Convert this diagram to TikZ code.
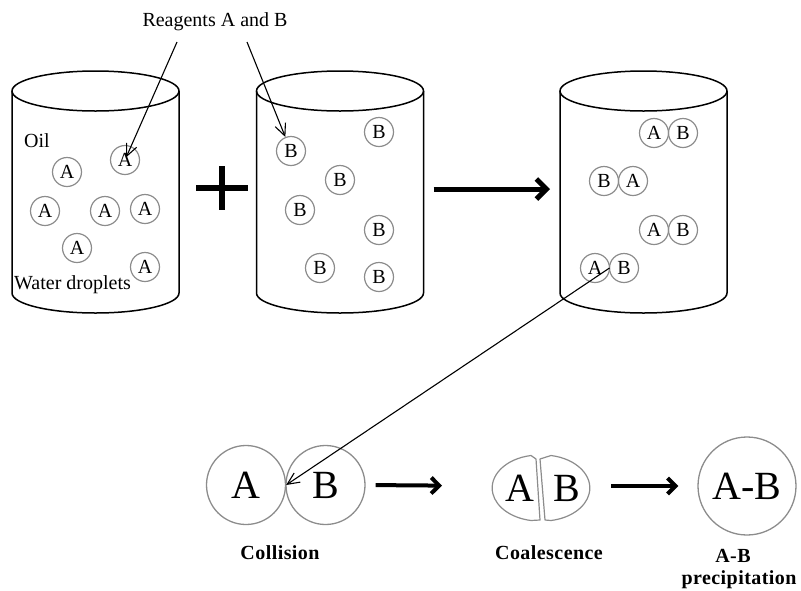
\documentclass[tikz,border=0pt]{standalone}
\usepackage{fontspec}
\setmainfont{Liberation Serif}
\newfontfamily\cbold[LetterSpace=2.2,UprightFont={* Bold}]{Liberation Serif}
\usetikzlibrary{arrows.meta,calc}
\definecolor{dropgray}{HTML}{8C8C8C}
\tikzset{
  cyl/.style={line width=1.5pt},
  txt/.style={font={\fontsize{20}{24}\selectfont}, inner sep=0pt},
  drop/.style={circle, draw=dropgray, line width=1.2pt, minimum size=29pt, inner sep=0pt, font={\fontsize{20}{24}\selectfont}},
  bigdrop/.style={circle, draw=dropgray, line width=1.3pt, minimum size=79pt, inner sep=0pt, font={\fontsize{40}{44}\selectfont}},
  biglet/.style={inner sep=0pt, font={\fontsize{40}{44}\selectfont}},
  half/.style={draw=dropgray, line width=1.2pt, line join=round},
  thin arrow/.style={line width=1.1pt, -{Straight Barb[length=12pt,width=11pt,line width=1.1pt]}},
  thick arrow/.style={line width=5pt, -{Straight Barb[length=10pt,width=20pt,line width=5pt]}},
  mid arrow/.style={line width=4pt, -{Straight Barb[length=8pt,width=16pt,line width=4pt]}},
  captext/.style={inner sep=0pt, align=center, font={\cbold\fontsize{20}{23}\selectfont}}
}
\begin{document}
\begin{tikzpicture}[x=1pt,y=-1pt]
\useasboundingbox (0,0) rectangle (801,590);
% cylinders
\foreach \cx in {95.5,340,643.5}{
  \draw[cyl] (\cx,91) ellipse [x radius=83.5, y radius=20];
  \draw[cyl] (\cx-83.5,91) -- (\cx-83.5,293) arc[start angle=180,end angle=0,x radius=83.5,y radius=20] -- (\cx+83.5,91);
}
% labels
\node[txt] (reag) at (215,22) {Reagents A and B};
\node[txt] (oil) at (37,141) {Oil};
\node[txt, anchor=west] (water) at (14,285) {Water droplets};
% left cylinder A droplets
\node[drop] (a1) at (125,160) {A};
\node[drop] (a2) at (67,172) {A};
\node[drop] (a3) at (45,211) {A};
\node[drop] (a4) at (105,211) {A};
\node[drop] (a5) at (145,209) {A};
\node[drop] (a6) at (77,248) {A};
\node[drop] (a7) at (145,267) {A};
% middle cylinder B droplets
\node[drop] (b1) at (291,151) {B};
\node[drop] (b2) at (379,132) {B};
\node[drop] (b3) at (340,180) {B};
\node[drop] (b4) at (300,210) {B};
\node[drop] (b5) at (379,230) {B};
\node[drop] (b6) at (320,268) {B};
\node[drop] (b7) at (379,277) {B};
% right cylinder pairs
\node[drop] (p1a) at (654,133) {A};
\node[drop] (p1b) at (683,133) {B};
\node[drop] (p2b) at (604,181) {B};
\node[drop] (p2a) at (633,181) {A};
\node[drop] (p3a) at (654,230) {A};
\node[drop] (p3b) at (683,230) {B};
\node[drop] (p4a) at (595,268) {A};
\node[drop] (p4b) at (624,268) {B};
% reagent arrows
\coordinate (r1) at (177,42);
\coordinate (r2) at (247,42);
\draw[thin arrow, shorten >=3pt] (r1) -- (a1.center);
\draw[thin arrow] (r2) -- (b1);
% plus
\draw[line width=6.5pt] (196,188) -- (248,188);
\draw[line width=6.5pt] (222,166) -- (222,210);
% big arrow
\coordinate (c2r) at (423.5,189);
\coordinate (c3l) at (560,189);
\draw[thick arrow, shorten <=10pt, shorten >=10pt] (c2r) -- (c3l);
% collision
\node[bigdrop] (colA) at (246,485) {A};
\node[bigdrop] (colB) at (325.5,485) {B};
\coordinate (pm) at ($(p4a)!0.5!(p4b)$);
\draw[thin arrow] (pm) -- (colA.east);
% coalescence
\draw[half] (536,459) -- (531,455.5) arc[start angle=260,end angle=100,x radius=47,y radius=33] -- (540,520) -- cycle;
\draw[half] (540,459) -- (551,455.5) arc[start angle=280,end angle=440,x radius=47,y radius=33] -- (545,520) -- cycle;
\node[biglet] (coA) at (520,488) {A};
\node[biglet] (coB) at (567,488) {B};
\coordinate (coalW) at (492,486);
\coordinate (coalE) at (590,486);
\draw[mid arrow, shorten <=10pt, shorten >=50pt] (colB.east) -- (coalW);
% precipitate
\node[bigdrop, minimum size=98pt] (ab) at (747,486) {A-B};
\draw[mid arrow, shorten <=21pt, shorten >=19pt] (coalE) -- (ab.west);
% captions
\node[captext] (capcol) at (280,553) {Collision};
\node[captext] (capcoal) at (549,553) {Coalescence};
\node[captext] (capab) at (733,556) {A-B};
\node[captext] (capprec) at (739,580) {precipitation};
\end{tikzpicture}
\end{document}
